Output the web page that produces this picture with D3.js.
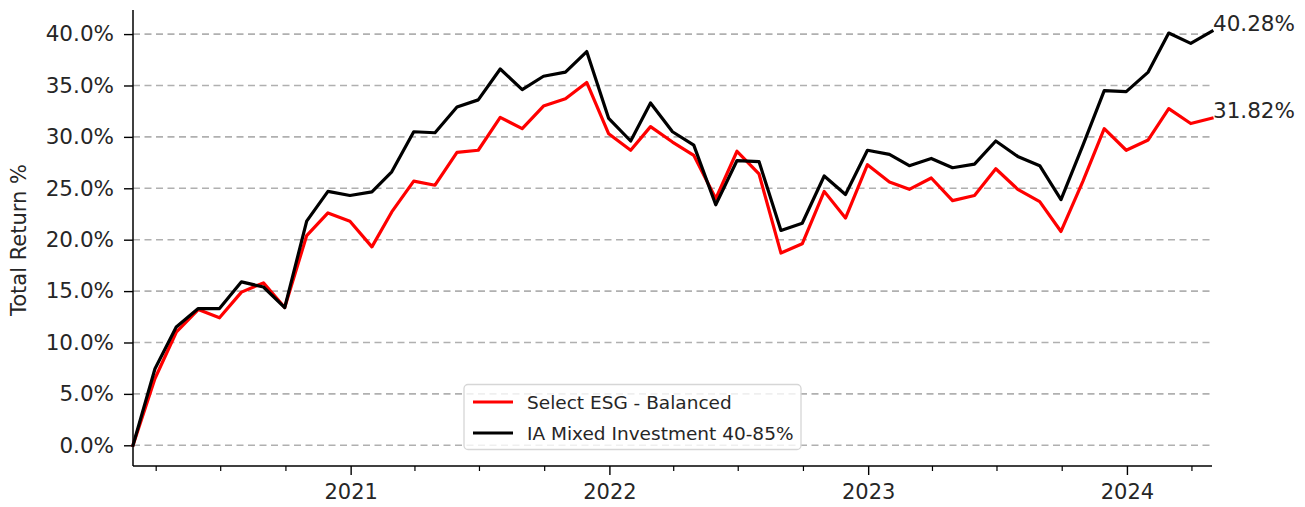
<!DOCTYPE html>
<html>
<head>
<meta charset="utf-8">
<script src="https://cdn.jsdelivr.net/npm/d3@7"></script>
<style>
  html, body { margin: 0; padding: 0; background: #fff; }
  svg { display: block; font-family: "DejaVu Sans", sans-serif; }
</style>
</head>
<body>
<svg id="chart" width="1305" height="507"></svg>
<script>
// ---- data ----
const months = [
  "2020-02","2020-03","2020-04","2020-05","2020-06","2020-07","2020-08","2020-09","2020-10","2020-11","2020-12",
  "2021-01","2021-02","2021-03","2021-04","2021-05","2021-06","2021-07","2021-08","2021-09","2021-10","2021-11","2021-12",
  "2022-01","2022-02","2022-03","2022-04","2022-05","2022-06","2022-07","2022-08","2022-09","2022-10","2022-11","2022-12",
  "2023-01","2023-02","2023-03","2023-04","2023-05","2023-06","2023-07","2023-08","2023-09","2023-10","2023-11","2023-12",
  "2024-01","2024-02","2024-03","2024-04"
];
const selectESG = [
  0, 6.5, 11.0, 13.2, 12.4, 14.9, 15.8, 13.4, 20.4, 22.6, 21.8,
  19.3, 22.7, 25.7, 25.3, 28.5, 28.7, 31.9, 30.8, 33.0, 33.7, 35.3, 30.3,
  28.7, 31.0, 29.5, 28.2, 24.0, 28.6, 26.4, 18.7, 19.6, 24.7, 22.1, 27.3,
  25.6, 24.9, 26.0, 23.8, 24.3, 26.9, 24.9, 23.7, 20.8, 25.7, 30.8, 28.7,
  29.7, 32.75, 31.3, 31.82
];
const iaMixed = [
  0, 7.45, 11.5, 13.3, 13.3, 15.9, 15.4, 13.4, 21.8, 24.7, 24.3,
  24.65, 26.6, 30.5, 30.4, 32.9, 33.6, 36.6, 34.6, 35.9, 36.3, 38.3, 31.8,
  29.6, 33.3, 30.5, 29.2, 23.4, 27.7, 27.6, 20.9, 21.6, 26.2, 24.4, 28.7,
  28.3, 27.2, 27.9, 27.0, 27.35, 29.6, 28.1, 27.2, 23.9, 29.2, 34.5, 34.4,
  36.3, 40.1, 39.1, 40.28
];
const seriesNames = ["Select ESG - Balanced", "IA Mixed Investment 40-85%"];
const seriesColors = ["#ff0000", "#000000"];
const yTicks = [0, 5, 10, 15, 20, 25, 30, 35, 40];
const yearTicks = ["2021", "2022", "2023", "2024"];
const endLabels = ["31.82%", "40.28%"];

// ---- layout ----
const M = { left: 133, right: 1212, top: 10, bottom: 466 };
const parseMonth = d3.timeParse("%Y-%m");
const dates = months.map(m => d3.timeDay.offset(d3.timeMonth.offset(parseMonth(m), 1), -1));

const svg = d3.select("#chart");
const x = d3.scaleTime().domain(d3.extent(dates)).range([M.left, M.right]);
const yMin = 0, yMax = 40.28, pad = (yMax - yMin) * 0.05;
const y = d3.scaleLinear().domain([yMin - pad, yMax + pad]).range([M.bottom, M.top + 0.5]);

const textColor = "#262626";

// grid
svg.append("g").selectAll("line").data(yTicks).join("line")
  .attr("x1", M.left).attr("x2", M.right)
  .attr("y1", d => y(d)).attr("y2", d => y(d))
  .attr("stroke", "#b0b0b0").attr("stroke-width", 1.6)
  .attr("stroke-dasharray", "7,4.5");

// y axis
const yAxis = d3.axisLeft(y).tickValues(yTicks).tickFormat(d => d.toFixed(1) + "%").tickSize(9).tickPadding(10);
const gy = svg.append("g").attr("transform", `translate(${M.left},0)`).call(yAxis);
gy.select(".domain").remove();
gy.selectAll(".tick line").attr("stroke", "#000").attr("stroke-width", 1.4);
gy.selectAll(".tick text").attr("fill", textColor).style("font-size", "21.5px").style("font-family", "DejaVu Sans");

// x axis minor (quarterly)
const quarterTicks = d3.timeMonth.every(3).range(x.domain()[0], x.domain()[1]).filter(d => d.getMonth() !== 0);
const gxm = svg.append("g").attr("transform", `translate(0,${M.bottom})`)
  .call(d3.axisBottom(x).tickValues(quarterTicks).tickFormat("").tickSize(5));
gxm.select(".domain").remove();
gxm.selectAll(".tick line").attr("stroke", "#000").attr("stroke-width", 1.2);

// x axis major (years)
const yearDates = yearTicks.map(s => d3.timeParse("%Y")(s));
const gx = svg.append("g").attr("transform", `translate(0,${M.bottom})`)
  .call(d3.axisBottom(x).tickValues(yearDates).tickFormat(d3.timeFormat("%Y")).tickSize(9).tickPadding(9));
gx.select(".domain").remove();
gx.selectAll(".tick line").attr("stroke", "#000").attr("stroke-width", 1.4);
gx.selectAll(".tick text").attr("fill", textColor).style("font-size", "21px").style("font-family", "DejaVu Sans");

// spines
svg.append("line").attr("x1", M.left).attr("x2", M.left).attr("y1", M.top).attr("y2", M.bottom)
  .attr("stroke", "#000").attr("stroke-width", 1.5);
svg.append("line").attr("x1", M.left).attr("x2", M.right).attr("y1", M.bottom).attr("y2", M.bottom)
  .attr("stroke", "#000").attr("stroke-width", 1.5);

// y label
svg.append("text")
  .attr("transform", `translate(26,${(M.top + M.bottom) / 2 + 2}) rotate(-90)`)
  .attr("text-anchor", "middle").attr("fill", textColor)
  .style("font-size", "21px").text("Total Return %");

// lines
const allSeries = [selectESG, iaMixed];
const line = d3.line().x((d, i) => x(dates[i])).y(d => y(d));
allSeries.forEach((s, k) => {
  svg.append("path").datum(s)
    .attr("fill", "none").attr("stroke", seriesColors[k])
    .attr("stroke-width", 3.2).attr("stroke-linejoin", "round").attr("stroke-linecap", "square")
    .attr("d", line);
});

// end labels
allSeries.forEach((s, k) => {
  svg.append("text")
    .attr("x", x(dates[dates.length - 1]) + 1)
    .attr("y", y(s[s.length - 1]))
    .attr("fill", textColor).style("font-size", "21.5px")
    .text(endLabels[k]);
});

// legend
const lg = svg.append("g");
lg.append("rect").attr("x", 464).attr("y", 384.5).attr("width", 337).attr("height", 65)
  .attr("rx", 4).attr("fill", "#fff").attr("fill-opacity", 0.8)
  .attr("stroke", "#d6d6d6").attr("stroke-width", 1.3);
seriesNames.forEach((name, k) => {
  const yy = 402 + k * 31;
  lg.append("line").attr("x1", 473).attr("x2", 513).attr("y1", yy).attr("y2", yy)
    .attr("stroke", seriesColors[k]).attr("stroke-width", 3.2);
  lg.append("text").attr("x", 527).attr("y", yy).attr("dy", "0.36em")
    .attr("fill", textColor).style("font-size", "18.5px").text(name);
});
</script>
</body>
</html>
